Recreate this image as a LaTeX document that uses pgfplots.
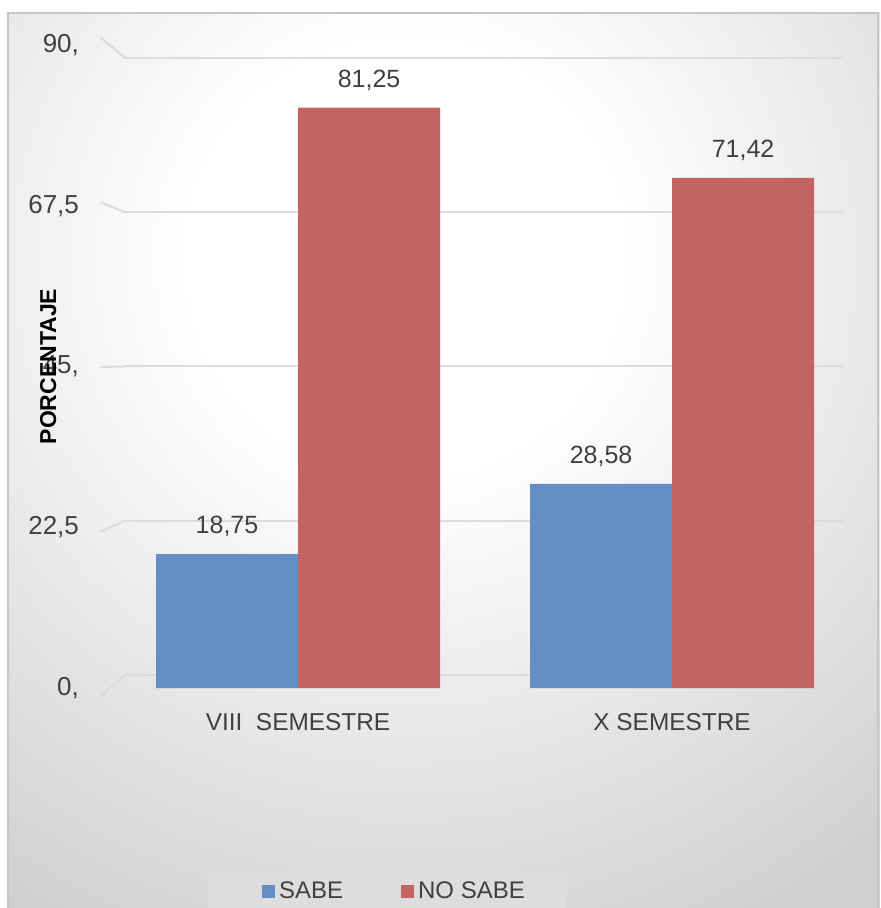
\documentclass[border=0pt]{standalone}
\usepackage{fontspec}
\setmainfont{Liberation Sans}
\usepackage{pgfplots}
\pgfplotsset{compat=1.18}
\definecolor{txt}{HTML}{404040}
\definecolor{sabe}{HTML}{658EC4}
\definecolor{nosabe}{HTML}{C46462}
\definecolor{gridc}{HTML}{DCDCDC}
\definecolor{legbg}{HTML}{DDDDDD}
\definecolor{bgout}{HTML}{CFCFCF}
\pgfdeclareradialshading{bgshade}{\pgfpoint{0bp}{0bp}}{color(0bp)=(white); color(7bp)=(white); color(25bp)=(bgout); color(50bp)=(bgout)}
\begin{document}
\begin{tikzpicture}
\useasboundingbox (-62.5pt,-110pt) rectangle (377.5pt,344pt);
\begin{scope}
\clip (-58.5pt,-110pt) rectangle (377.5pt,337.5pt);
\fill[bgout] (-58.5pt,-110pt) rectangle (377.5pt,337.5pt);
\shade[shading=bgshade] (140pt,215pt) circle (380pt);
\end{scope}
\draw[gray!45, line width=1pt] (-58.5pt,-110pt) -- (-58.5pt,337.5pt) -- (376.5pt,337.5pt) -- (376.5pt,-110pt);
\fill[legbg] (41.5pt,-110pt) rectangle (221pt,-92pt);
% back wall grid
\begin{axis}[at={(0pt,0pt)}, anchor=south west, scale only axis,
  width=359pt, height=321.5pt,
  xmin=-0.4626, xmax=1.457, ymin=-1.9, ymax=91.9,
  axis line style={draw=none}, major tick length=0pt,
  xtick=\empty, ytick={0,22.5,45,67.5,90}, yticklabel=\empty,
  ymajorgrids, major grid style={gridc, line width=1pt}, clip=false]
\addplot[gridc, line width=1pt] coordinates {(-0.529,93.06) (-0.4626,90)};
\addplot[gridc, line width=1pt] coordinates {(-0.529,68.99) (-0.4626,67.5)};
\addplot[gridc, line width=1pt] coordinates {(-0.529,44.92) (-0.4626,45)};
\addplot[gridc, line width=1pt] coordinates {(-0.529,20.86) (-0.4626,22.5)};
\addplot[gridc, line width=1pt] coordinates {(-0.529,-3.21) (-0.4626,0)};
\end{axis}
% bars
\begin{axis}[at={(0pt,0pt)}, anchor=south west, scale only axis,
  width=359pt, height=321.5pt,
  xmin=-0.4626, xmax=1.457, ymin=0, ymax=90,
  axis line style={draw=none}, major tick length=0pt,
  ybar=0pt, bar width=71pt,
  xtick={0,1}, xticklabels={VIII\ \ SEMESTRE, X SEMESTRE},
  ytick={0,22.5,45,67.5,90}, yticklabels={{0,},{22,5},{45,},{67,5},{90,}},
  xticklabel style={font=\fontsize{12.2}{14}\selectfont, text=txt, yshift=-9pt},
  yticklabel style={font=\fontsize{13}{15}\selectfont, text=txt, xshift=-19.5pt},
  ylabel={\textbf{PORCENTAJE}},
  ylabel style={at={(axis description cs:-0.107,0.5)}, anchor=center, font=\fontsize{11.5}{13}\selectfont, text=black},
  nodes near coords,
  nodes near coords style={font=\fontsize{12.5}{14}\selectfont, text=txt, yshift=5pt},
  legend columns=2,
  legend style={at={(axis description cs:0.3767,-0.317)}, anchor=center, draw=none, fill=none,
    font=\fontsize{12}{14}\selectfont, text=txt,
    /tikz/every even column/.append style={column sep=27pt}},
  legend image code/.code={\fill[#1] (0pt,-3.25pt) rectangle (6.5pt,3.25pt);},
  /pgf/number format/use comma, /pgf/number format/fixed,
  /pgf/number format/fixed zerofill, /pgf/number format/precision=2,
  /pgf/number format/assume math mode=true]
\addplot[fill=sabe, draw=none] coordinates {(0,18.75) (1,28.58)};
\addplot[fill=nosabe, draw=none] coordinates {(0,81.25) (1,71.42)};
\legend{SABE, NO SABE}
\end{axis}
\end{tikzpicture}
\end{document}
